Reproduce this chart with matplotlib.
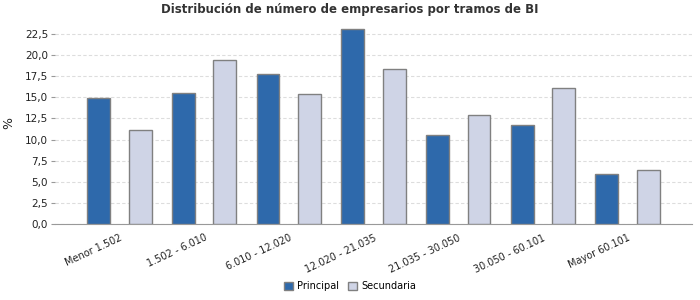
import matplotlib
matplotlib.use("Agg")
import matplotlib.pyplot as plt
import numpy as np

categories = ["Menor 1.502", "1.502 - 6.010", "6.010 - 12.020", "12.020 - 21.035",
              "21.035 - 30.050", "30.050 - 60.101", "Mayor 60.101"]
principal = [14.9, 15.5, 17.8, 23.1, 10.6, 11.7, 6.0]
secundaria = [11.2, 19.4, 15.4, 18.4, 12.9, 16.1, 6.4]
yticks = [0, 2.5, 5, 7.5, 10, 12.5, 15, 17.5, 20, 22.5]

plt.rcParams['font.family'] = ['DejaVu Sans']

fig = plt.figure(figsize=(7, 3), dpi=100)
ax = fig.add_axes([0.0786, 0.252, 0.91, 0.675])

x = np.arange(len(categories))
w = 0.27
ax.bar(x - 0.245, principal, w, color='#2e69ab', edgecolor='#808080', linewidth=1,
       label='Principal', zorder=3)
ax.bar(x + 0.245, secundaria, w, color='#cfd4e6', edgecolor='#808080', linewidth=1,
       label='Secundaria', zorder=3)

ax.set_xlim(-0.76, 6.76)
ax.set_ylim(0, 23.9)
ax.set_yticks(yticks)
ax.set_yticklabels([f"{v:.1f}".replace('.', ',') for v in yticks], fontsize=7.5, color='#222222')
ax.set_xticks(x)
ax.set_xticklabels(categories, rotation=25, ha='right', rotation_mode='anchor',
                   fontsize=7, color='#222222')
ax.tick_params(axis='x', length=0, pad=6)
ax.tick_params(axis='y', length=3, color='#999999', pad=2)

ax.grid(axis='y', color='#dddddd', linestyle=(0, (3, 2)), linewidth=0.8, zorder=0)
for s in ['top', 'right', 'left']:
    ax.spines[s].set_visible(False)
ax.spines['bottom'].set_color('#999999')

ax.set_ylabel('%', fontsize=9, color='#222222')
ax.yaxis.set_label_coords(-0.062, 0.5)
fig.suptitle('Distribución de número de empresarios por tramos de BI', fontsize=8.5,
             fontweight='bold', color='#333333', y=0.99)

leg = fig.legend(loc='lower center', bbox_to_anchor=(0.5, 0.0), ncol=2, frameon=False,
                 fontsize=7, handlelength=0.9, handleheight=0.9, handletextpad=0.4,
                 columnspacing=1.0)

plt.savefig("out.png", dpi=100)
